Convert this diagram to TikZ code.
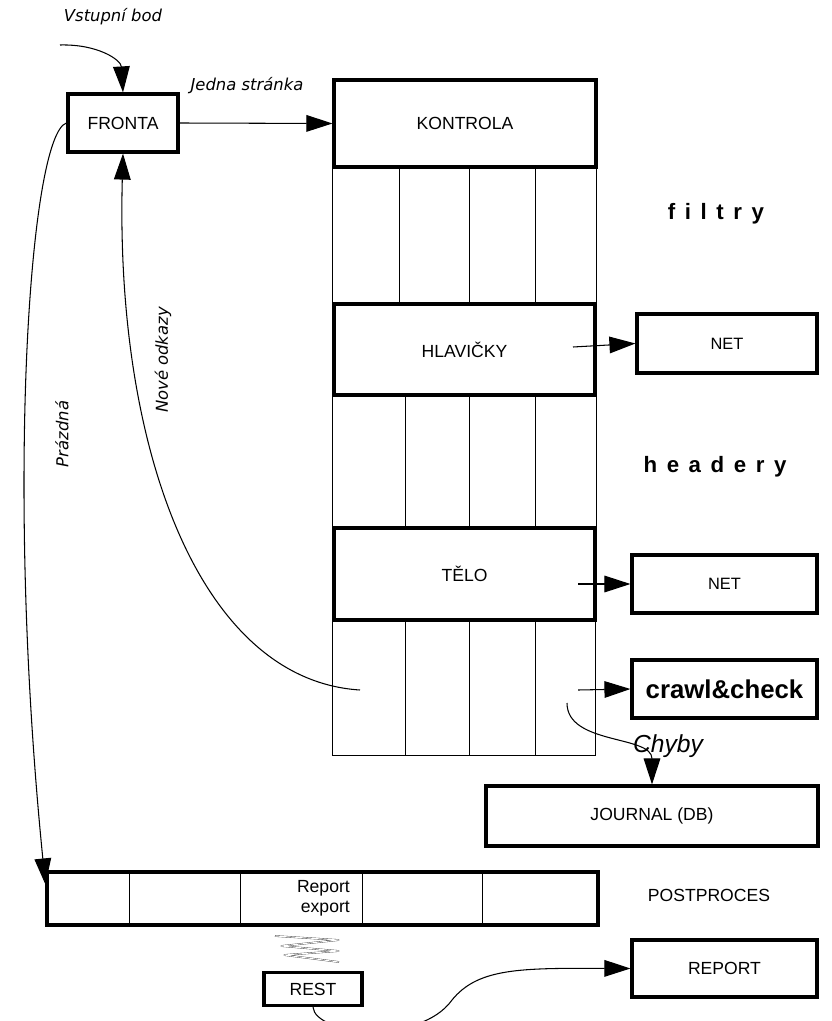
\documentclass[tikz,border=0pt]{standalone}
\usepackage{fontspec}
\setmainfont{Liberation Sans}
\newfontfamily\obliquefont{DejaVu Sans}
\usetikzlibrary{arrows.meta,calc}
\definecolor{zigzaggray}{RGB}{60,60,60}

\begin{document}
\begin{tikzpicture}[x=0.03cm,y=-0.03cm,
        box/.style={draw, line width=2.7pt, inner sep=0pt},
        capsfont/.style={font=\fontsize{15}{18}\selectfont},
        lightfont/.style={font=\fontsize{14}{17}\selectfont},
        tag/.style={font=\obliquefont\itshape\fontsize{14}{17}\selectfont},
        spaced/.style={font=\bfseries\fontsize{19}{22}\selectfont\addfontfeature{LetterSpace=43}},
        flow/.style={line width=0.9pt, -{Triangle[length=7.8mm,width=5mm]}},
        grid/.style={line width=0.6pt}]
    \useasboundingbox (0,0) rectangle (831,1021);

    % main chain
    \node[box, capsfont, minimum width=3.3cm, minimum height=1.74cm] (fronta) at (123,123) {FRONTA};
    \node[box, capsfont, minimum width=7.86cm, minimum height=2.61cm] (kontrola) at (465,123.5) {KONTROLA};
    \node[box, capsfont, minimum width=7.83cm, minimum height=2.73cm] (hlavicky) at (464.5,349.5) {HLAVIČKY};
    \node[box, capsfont, minimum width=7.83cm, minimum height=2.76cm] (telo) at (464.5,574) {TĚLO};

    \node[box, lightfont, minimum width=5.4cm, minimum height=1.77cm] (net1) at (727,343.5) {NET};
    \node[box, lightfont, minimum width=5.55cm, minimum height=1.74cm] (net2) at (724.5,584) {NET};
    \node[box, font=\bfseries\fontsize{22}{25}\selectfont, minimum width=5.55cm, minimum height=1.74cm] (crawl) at (724.5,689) {crawl\&check};
    \node[box, capsfont, minimum width=9.96cm, minimum height=1.8cm] (journal) at (652,816) {JOURNAL (DB)};

    \node[box, minimum width=16.53cm, minimum height=1.59cm] (post) at (322.5,898.5) {};
    \node[box, capsfont, minimum width=2.94cm, minimum height=0.99cm] (rest) at (313,989) {REST};
    \node[box, capsfont, minimum width=5.55cm, minimum height=1.71cm] (report) at (724.5,968.5) {REPORT};

    % filter columns
    \draw[grid] (kontrola.south west) rectangle (hlavicky.north east);
    \foreach \cx in {399,469,535} \draw[grid] (\cx,167) -- (\cx,304);
    \draw[grid] (hlavicky.south west) rectangle (telo.north east);
    \foreach \cx in {405,469,535} \draw[grid] (\cx,395) -- (\cx,528);
    \draw[grid] (telo.south west) rectangle (595,755);
    \foreach \cx in {405,469,535} \draw[grid] (\cx,620) -- (\cx,755);

    % postproces cells
    \foreach \cx in {129,240,362,482} \draw[grid] (\cx,872) -- (\cx,925);
    \node[font=\fontsize{15}{17}\selectfont, align=right, anchor=east, inner sep=0pt] (export) at (350,898) {Report\\export};

    % labels
    \node[tag] (vstup) at (113,17) {Vstupní bod};
    \node[tag] (jedna) at (247,86) {Jedna stránka};
    \node[tag, rotate=90] (nove) at (163,360) {Nové odkazy};
    \node[tag, rotate=90] (prazdna) at (62,434) {Prázdná};
    \node[spaced] (filtry) at (716,214) {filtry};
    \node[spaced] (headery) at (715,467) {headery};
    \node[capsfont] (postproces) at (709,895) {POSTPROCES};
    \node[font=\itshape\fontsize{21}{24}\selectfont] (chyby) at (668,746) {Chyby};

    % connectors
    \coordinate (entry) at (60,45);
    \coordinate (hout) at (573,347);
    \coordinate (tout) at (578,584);
    \coordinate (cout) at (578,690);
    \coordinate (links) at (360,690);
    \coordinate (errors) at (567,703);
    \draw[flow] (entry) .. controls (98,44) and (121,60) .. (fronta.north);
    \draw[flow] (fronta.east) -- (kontrola.west);
    \draw[flow] (hout) -- (net1.west);
    \draw[flow] (tout) -- (net2.west);
    \draw[flow] (cout) -- (crawl.west);
    \draw[flow] (links) .. controls (200,680) and (115,450) .. (fronta.south);
    \draw[flow] (fronta.west) .. controls (30,135) and (5,480) .. ($(post.north west)+(0,14)$);
    \draw[flow] (errors) .. controls (567,745) and (652,735) .. (journal.north);
    \draw[flow] (rest.south) .. controls (315,1035) and (420,1045) .. (452,1000)
        .. controls (478,968) and (520,968) .. (report.west);

    % zigzag
    \draw[zigzaggray, line width=0.3pt, double=white, double distance=0.8pt]
        (275,936) -- (339,940) -- (281,946) -- (339,951) -- (284,955) -- (339,962);
\end{tikzpicture}
\end{document}
